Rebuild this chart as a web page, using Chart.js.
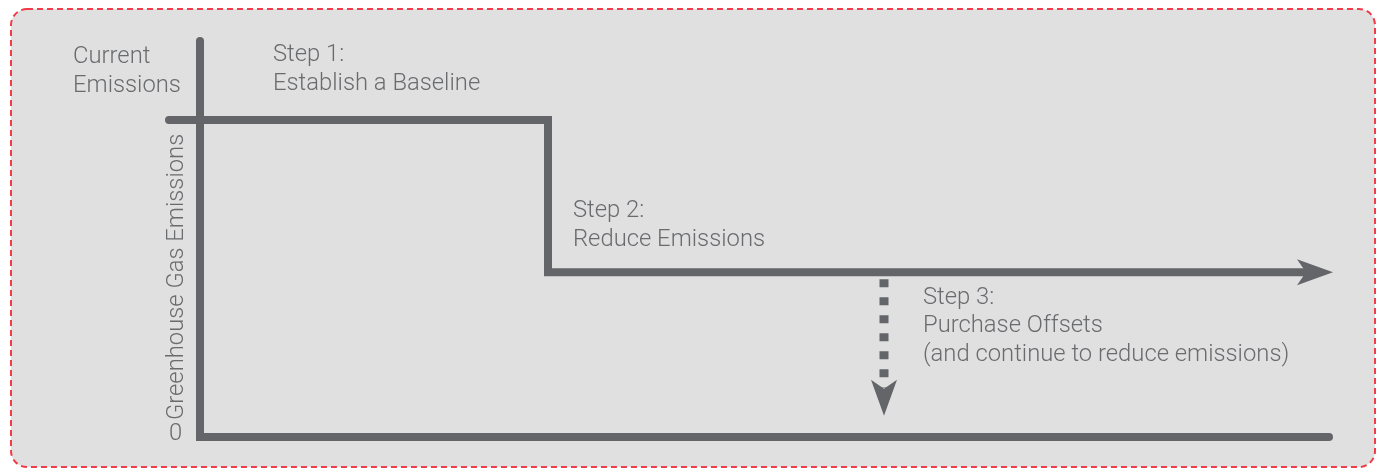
<!DOCTYPE html>
<html>
<head>
<meta charset="utf-8">
<script src="https://cdn.jsdelivr.net/npm/chart.js@4"></script>
<style>
    html, body { margin: 0; padding: 0; background: #ffffff; }
    #offsetChart { display: block; }
</style>
</head>
<body>
<canvas id="offsetChart" width="1377" height="470"></canvas>
<script>
// Emissions over time (arbitrary units, origin at the axes corner)
const axisX = [0, 0, 11.29];
const axisY = [12.49, 0, 0];

const stepX = [-0.31, 3.48, 3.48, 11.12];
const stepY = [10, 10, 5.2, 5.2];

const offsetX = [6.84, 6.84];
const offsetY = [4.98, 1.55];

const axisTitle = 'Greenhouse Gas Emissions';
const zeroLabel = '0';
const currentLabel = ['Current', 'Emissions'];
const stepLabels = [
    ['Step 1:', 'Establish a Baseline'],
    ['Step 2:', 'Reduce Emissions'],
    ['Step 3:', 'Purchase Offsets', '(and continue to reduce emissions)']
];

const lineColor = '#646569';
const textColor = '#6a6b6e';
const fontFamily = "Roboto, 'Liberation Sans', sans-serif";
const fontSize = 23.8;

const toPoints = (xs, ys) => xs.map((x, i) => ({ x: x, y: ys[i] }));

// Rounded grey panel with the red dashed outline
const panelPlugin = {
    id: 'panel',
    beforeDraw(chart) {
        const ctx = chart.ctx;
        ctx.save();
        ctx.beginPath();
        ctx.roundRect(11, 9, 1364, 458, 16);
        ctx.fillStyle = '#e0e0e0';
        ctx.fill();
        ctx.setLineDash([6, 4]);
        ctx.lineWidth = 2;
        ctx.strokeStyle = 'rgba(240, 50, 64, 0.95)';
        ctx.stroke();
        ctx.restore();
    }
};

// Notched arrow heads on datasets flagged with `arrow`
const arrowPlugin = {
    id: 'arrowHeads',
    afterDatasetsDraw(chart) {
        const ctx = chart.ctx;
        chart.data.datasets.forEach((ds, i) => {
            if (!ds.arrow) return;
            const pts = chart.getDatasetMeta(i).data;
            const last = pts[pts.length - 1];
            const prev = pts[pts.length - 2];
            let dx = last.x - prev.x;
            let dy = last.y - prev.y;
            const len = Math.hypot(dx, dy);
            dx /= len; dy /= len;
            const px = -dy, py = dx;
            const { tipOffset, length, half, notch } = ds.arrow;
            const tx = last.x + dx * tipOffset;
            const ty = last.y + dy * tipOffset;
            const bx = tx - dx * length;
            const by = ty - dy * length;
            ctx.save();
            ctx.beginPath();
            ctx.moveTo(tx, ty);
            ctx.lineTo(bx + px * half, by + py * half);
            ctx.lineTo(bx + dx * notch, by + dy * notch);
            ctx.lineTo(bx - px * half, by - py * half);
            ctx.closePath();
            ctx.fillStyle = ds.borderColor;
            ctx.fill();
            ctx.restore();
        });
    }
};

// Text annotations placed in data coordinates
const labelPlugin = {
    id: 'stepLabels',
    afterDraw(chart) {
        const ctx = chart.ctx;
        const sx = chart.scales.x;
        const sy = chart.scales.y;
        ctx.save();
        ctx.fillStyle = textColor;
        ctx.font = `300 ${fontSize}px ${fontFamily}`;
        ctx.textBaseline = 'alphabetic';

        const block = (lines, x, y, lh) => {
            ctx.textAlign = 'left';
            lines.forEach((t, k) => ctx.fillText(t, sx.getPixelForValue(x), sy.getPixelForValue(y) + k * lh));
        };

        block(currentLabel, -1.27, 11.80, 29);
        block(stepLabels[0], 0.73, 11.87, 29.3);
        block(stepLabels[1], 3.73, 6.95, 29);
        block(stepLabels[2], 7.23, 4.19, 28.3);

        // zero tick
        ctx.textAlign = 'center';
        ctx.fillText(zeroLabel, sx.getPixelForValue(-0.245), sy.getPixelForValue(0) + 3.5);

        // rotated axis title
        ctx.translate(sx.getPixelForValue(-0.17), sy.getPixelForValue(5.05));
        ctx.rotate(-Math.PI / 2);
        ctx.textAlign = 'center';
        ctx.fillText(axisTitle, 0, 0);
        ctx.restore();
    }
};

const ctx = document.getElementById('offsetChart').getContext('2d');

new Chart(ctx, {
    type: 'line',
    data: {
        datasets: [
            {
                label: 'Axes',
                data: toPoints(axisX, axisY),
                borderColor: lineColor,
                borderWidth: 8,
                borderCapStyle: 'round',
                borderJoinStyle: 'miter',
                pointRadius: 0
            },
            {
                label: 'Emissions',
                data: toPoints(stepX, stepY),
                borderColor: lineColor,
                borderWidth: 8,
                borderCapStyle: 'round',
                borderJoinStyle: 'miter',
                pointRadius: 0,
                arrow: { tipOffset: 21, length: 36, half: 13, notch: 9 }
            },
            {
                label: 'Offsets',
                data: toPoints(offsetX, offsetY),
                borderColor: lineColor,
                borderWidth: 9,
                borderDash: [8, 10],
                borderCapStyle: 'butt',
                pointRadius: 0,
                arrow: { tipOffset: 28, length: 36, half: 13, notch: 9 }
            }
        ]
    },
    options: {
        responsive: false,
        animation: false,
        devicePixelRatio: 1,
        layout: { padding: 0 },
        scales: {
            x: { type: 'linear', min: -2, max: 11.77, display: false },
            y: { type: 'linear', min: -1.041, max: 13.785, display: false }
        },
        plugins: {
            legend: { display: false },
            tooltip: { enabled: false }
        }
    },
    plugins: [panelPlugin, arrowPlugin, labelPlugin]
});
</script>
</body>
</html>
